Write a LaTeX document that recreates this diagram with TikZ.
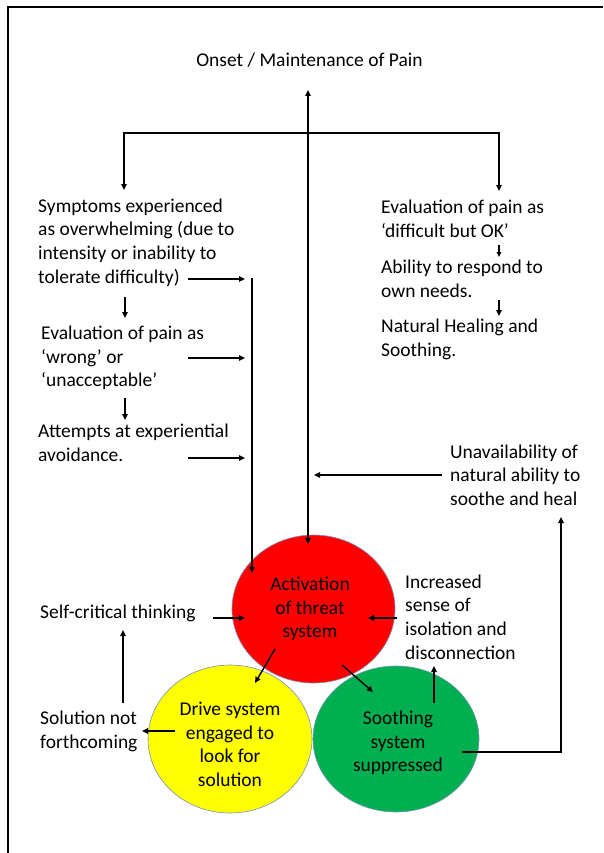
\documentclass[tikz,border=0pt]{standalone}
\usepackage{fontspec}
\setmainfont{Carlito}
\usetikzlibrary{arrows.meta,shapes.geometric}
\begin{document}
\begin{tikzpicture}[x=1pt,y=-1pt,
  txt/.style={inner sep=0pt, align=left, anchor=west, font=\fontsize{19.5}{23.7}\selectfont, text=black},
  ctxt/.style={inner sep=0pt, align=center, font=\fontsize{19.5}{23.7}\selectfont, text=black},
  conn/.style={line width=1.4pt, -{Triangle[length=6pt,width=5.5pt]}},
  blob/.style={ellipse, inner sep=0pt, draw={rgb,255:red,120;green,145;blue,185}, line width=0.6pt}]
\useasboundingbox (0,0) rectangle (603,853);
\fill[white] (0,0) rectangle (603,853);
% frame
\coordinate (fBL) at (8,853);
\coordinate (fTL) at (8,7);
\coordinate (fTR) at (603,7);
\draw[line width=1.3pt] (fBL) -- (fTL) -- (fTR);

% ellipses
\node[blob, fill={rgb,255:red,255;green,255;blue,0}, minimum width=164pt, minimum height=148pt] (yel) at (230,739) {};
\node[blob, fill={rgb,255:red,0;green,176;blue,80}, minimum width=166pt, minimum height=146pt] (grn) at (396,739) {};
\node[blob, fill={rgb,255:red,255;green,0;blue,0}, minimum width=163pt, minimum height=148pt] (red) at (313.5,609) {};

% texts
\node[ctxt] (title) at (309.5,60) {Onset / Maintenance of Pain};
\node[txt] (sym) at (38,242.5) {Symptoms experienced\\as overwhelming (due to\\intensity or inability to\\tolerate difficulty)};
\node[txt] (wrong) at (41,358) {Evaluation of pain as\\‘wrong’ or\\‘unacceptable’};
\node[txt] (avoid) at (38,443) {Attempts at experiential\\avoidance.};
\node[txt] (ok) at (381,219) {Evaluation of pain as\\‘difficult but OK’};
\node[txt] (resp) at (381,278.5) {Ability to respond to\\own needs.};
\node[txt] (heal) at (381,339.5) {Natural Healing and\\Soothing.};
\node[txt] (unav) at (450,475) {Unavailability of\\natural ability to\\soothe and heal};
\node[txt] (iso) at (405,617) {Increased\\sense of\\isolation and\\disconnection};
\node[txt] (self) at (40,613) {Self-critical thinking};
\node[txt] (sol) at (40,731.5) {Solution not\\forthcoming};
\node[ctxt] (redtxt) at (310,609) {Activation\\of threat\\system};
\node[ctxt] (yeltxt) at (230,744.5) {Drive system\\engaged to\\look for\\solution};
\node[ctxt] (grntxt) at (398,743) {Soothing\\system\\suppressed};

% connector coordinates
\coordinate (topTip) at (308,90);
\coordinate (redTop) at (308,544);
\coordinate (bL) at (124,133);
\coordinate (bR) at (499,133);
\coordinate (lTip) at (124,190);
\coordinate (rTip) at (499,191);
\coordinate (a1s) at (188,279); \coordinate (a1e) at (245,279);
\coordinate (vTop) at (252,278); \coordinate (vEnd) at (252,573);
\coordinate (a2s) at (188,358); \coordinate (a2e) at (245,358);
\coordinate (a3s) at (188,458); \coordinate (a3e) at (245,458);
\coordinate (d1s) at (125,297); \coordinate (d1e) at (125,318);
\coordinate (d2s) at (125,398); \coordinate (d2e) at (125,420);
\coordinate (d3s) at (499,245); \coordinate (d3e) at (499,257);
\coordinate (d4s) at (499,300); \coordinate (d4e) at (499,316);
\coordinate (unS) at (442,475); \coordinate (unE) at (314,475);
\coordinate (scS) at (213,618); \coordinate (scE) at (245,618);
\coordinate (isS) at (397,618); \coordinate (isE) at (368,618);
\coordinate (ryS) at (275,649); \coordinate (ryE) at (255,683);
\coordinate (rgS) at (342,665); \coordinate (rgE) at (373,692);
\coordinate (guS) at (434,703); \coordinate (guE) at (434,666);
\coordinate (snS) at (123,703); \coordinate (snE) at (123,630);
\coordinate (ysS) at (175,731); \coordinate (ysE) at (142,731);
\coordinate (gS) at (462,752); \coordinate (gC) at (561,752); \coordinate (gE) at (561,517);

% connectors
\draw[conn, {Triangle[length=6pt,width=5.5pt]}-{Triangle[length=6pt,width=5.5pt]}] (topTip) -- (redTop);
\draw[conn, {Triangle[length=6pt,width=5.5pt]}-{Triangle[length=6pt,width=5.5pt]}] (lTip) -- (bL) -- (bR) -- (rTip);
\draw[conn] (a1s) -- (a1e);
\draw[conn] (vTop) -- (vEnd);
\draw[conn] (a2s) -- (a2e);
\draw[conn] (a3s) -- (a3e);
\draw[conn, line width=1.2pt] (d1s) -- (d1e);
\draw[conn, line width=1.2pt] (d2s) -- (d2e);
\draw[conn, line width=1.1pt, -{Triangle[length=5pt,width=4.5pt]}] (d3s) -- (d3e);
\draw[conn, line width=1.2pt] (d4s) -- (d4e);
\draw[conn] (unS) -- (unE);
\draw[conn] (scS) -- (scE);
\draw[conn] (isS) -- (isE);
\draw[conn] (ryS) -- (ryE);
\draw[conn] (rgS) -- (rgE);
\draw[conn] (guS) -- (guE);
\draw[conn] (snS) -- (snE);
\draw[conn] (ysS) -- (ysE);
\draw[conn] (gS) -- (gC) -- (gE);
\end{tikzpicture}
\end{document}
